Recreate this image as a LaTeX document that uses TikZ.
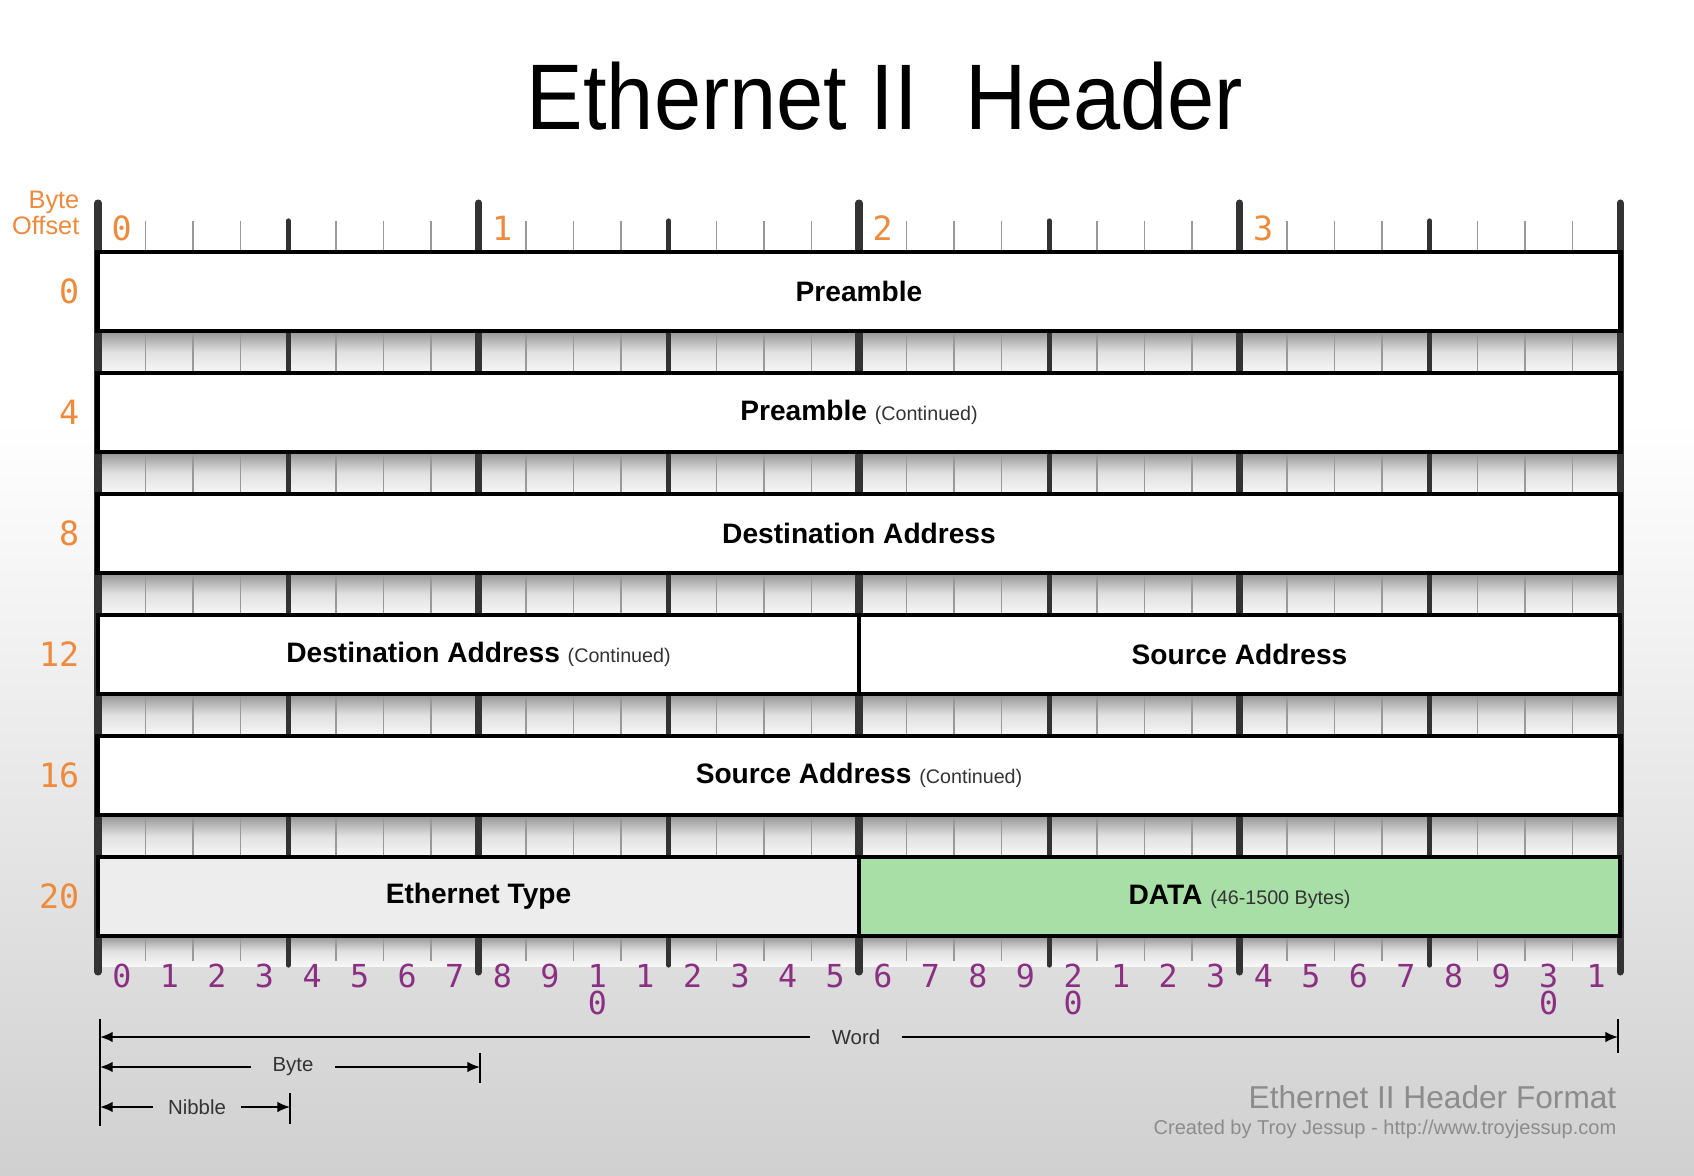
\documentclass[tikz,border=0pt]{standalone}
\usepackage{fontspec}
\usepackage{graphicx}
\setmainfont{Liberation Sans}
\newfontfamily\bitfont{DejaVu Sans Mono}
\usetikzlibrary{arrows.meta}
\definecolor{offsetorange}{HTML}{EE8A3C}
\definecolor{bitpurple}{HTML}{8A2F82}
\definecolor{datagreen}{HTML}{A7DFA7}
\definecolor{typegray}{HTML}{EDEDED}
\definecolor{bggray}{HTML}{D0D0D0}
\definecolor{footgray}{HTML}{8C8C8C}
\newcommand{\fieldnote}[1]{{\fontsize{5.6}{6}\selectfont\mdseries\color{black!80}#1}}
\begin{document}
\begin{tikzpicture}[x=0.01cm, y=-0.01cm,
  field/.style={draw, line width=1.2pt, inner sep=0pt, outer sep=0pt, minimum height=0.79cm, fill=white, font=\fontsize{8}{9.6}\selectfont\bfseries},
  fullfield/.style={field, minimum width=15.22cm},
  halffield/.style={field, minimum width=7.61cm},
  bittick/.style={black!40, line width=0.45pt},
  nibblebar/.style={black!80, line width=1.5pt, line cap=round},
  bytebar/.style={black!80, line width=2pt, line cap=round},
  strip/.style={top color=black!42, bottom color=black!3, middle color=black!12},
  offset/.style={text=offsetorange, font=\bitfont\fontsize{9.5}{10}\selectfont},
  bitnum/.style={text=bitpurple, font=\bitfont\fontsize{9}{10}\selectfont, inner sep=0pt},
  dimlabel/.style={font=\fontsize{5.8}{7}\selectfont, text=black!80, inner xsep=6pt},
  dim/.style={-{Latex[length=3.6pt,width=3pt]}, line width=0.5pt},
  dimtick/.style={line width=0.55pt}]
\useasboundingbox (0,0) rectangle (1694,1176);
\fill[white] (0,0) rectangle (1694,1176);
\shade[top color=white, bottom color=bggray] (0,420) rectangle (1694,1176);

\foreach \t in {331,452,573,694,815}
  \shade[strip] (98,\t) rectangle (1620,\t+42);
\shade[strip] (98,936) rectangle (1620,966);

\foreach \i [evaluate=\i as \x using 98+47.5625*\i] in {1,2,3,5,6,7,9,10,11,13,14,15,17,18,19,21,22,23,25,26,27,29,30,31}
  \draw[bittick] (\x,221) -- (\x,961);
\foreach \i [evaluate=\i as \x using 98+47.5625*\i] in {4,12,20,28}
  \draw[nibblebar] (\x,221) -- (\x,965);
\foreach \i [evaluate=\i as \x using 98+47.5625*\i] in {0,8,16,24,32}
  \draw[bytebar] (\x,203) -- (\x,972);

\node[fullfield] (pre) at (859,291.5) {Preamble};
\node[fullfield] (precont) at (859,412.5) {Preamble \fieldnote{(Continued)}};
\node[fullfield] (dst) at (859,533.5) {Destination Address};
\node[halffield] (dstcont) at (478.5,654.5) {Destination Address \fieldnote{(Continued)}};
\node[halffield] (src) at (1239.5,654.5) {Source Address};
\node[fullfield] (srccont) at (859,775.5) {Source Address \fieldnote{(Continued)}};
\node[halffield, fill=typegray] (etype) at (478.5,896.5) {Ethernet Type};
\node[halffield, fill=datagreen] (data) at (1239.5,896.5) {DATA \fieldnote{(46-1500 Bytes)}};

\node[anchor=east, align=right, text=offsetorange, font=\fontsize{7.2}{7.4}\selectfont, inner sep=0pt] (offhead) at (80,213) {Byte\\Offset};
\foreach \o [count=\r from 0] in {0,4,8,12,16,20}
  \node[offset, anchor=east, inner sep=0pt] (off\o) at (80,291.5+121*\r) {\o};
\foreach \k in {0,1,2,3}
  \node[offset] (byte\k) at ({98+47.5625*(8*\k+0.5)},228) {\k};

\foreach \d [count=\i from 0] in {0,1,2,3,4,5,6,7,8,9,1,1,2,3,4,5,6,7,8,9,2,1,2,3,4,5,6,7,8,9,3,1}
  \node[bitnum] (bit\i) at ({98+47.5625*(\i+0.5)},976) {\d};
\foreach \i in {10,20,30}
  \node[bitnum] (bitlow\i) at ({98+47.5625*(\i+0.5)},1003) {0};

\coordinate (wordL) at (100,1037);
\coordinate (wordR) at (1618,1037);
\coordinate (byteL) at (100,1067);
\coordinate (byteR) at (480,1067);
\coordinate (nibL) at (100,1107);
\coordinate (nibR) at (290,1107);
\node[dimlabel] (word) at (856,1037) {Word};
\node[dimlabel] (bytelbl) at (293,1067) {Byte};
\node[dimlabel, inner xsep=4pt] (nibble) at (197,1107) {Nibble};
\draw[dim] (word) -- (wordL);
\draw[dim] (word) -- (wordR);
\draw[dim] (bytelbl) -- (byteL);
\draw[dim] (bytelbl) -- (byteR);
\draw[dim] (nibble) -- (nibL);
\draw[dim] (nibble) -- (nibR);
\draw[dimtick] (100,1019) -- (100,1126);
\draw[dimtick] (1618,1019) -- (1618,1053);
\draw[dimtick] (480,1053) -- (480,1083);
\draw[dimtick] (290,1093) -- (290,1124);

\node[anchor=base east, text=footgray, font=\fontsize{9}{10}\selectfont, inner sep=0pt] (foot) at (1617,1108) {Ethernet II Header Format};
\node[anchor=base east, text=footgray, font=\fontsize{5.7}{6}\selectfont, inner sep=0pt] (credit) at (1617,1134) {Created by Troy Jessup - http://www.troyjessup.com};

\node[font=\fontsize{26.5}{30}\selectfont] (title) at (885,96) {\scalebox{0.91}[1]{Ethernet II\ \ Header}};
\end{tikzpicture}
\end{document}
